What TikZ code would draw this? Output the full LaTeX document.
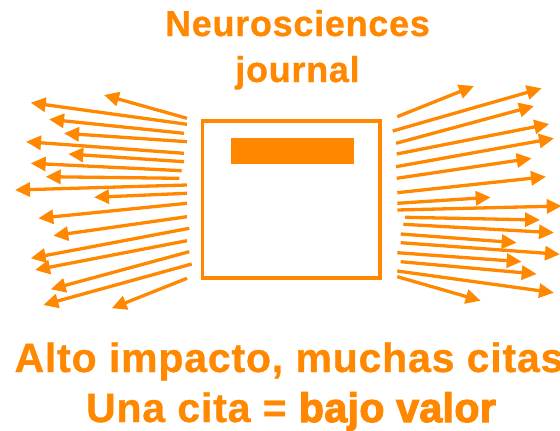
\documentclass[tikz,border=0pt]{standalone}
\usepackage{fontspec}
\setmainfont{Liberation Sans}
\newfontfamily\roundfont{Liberation Sans Bold}[FakeBold=0.8, LetterSpace=2]
\newfontfamily\heavyfont{Liberation Sans Bold}[FakeBold=3, LetterSpace=1]
\usetikzlibrary{arrows.meta}
\definecolor{citeorange}{RGB}{255,136,0}
\tikzset{
  citearrow/.style={line width=3.3pt, citeorange, -{Triangle[length=15pt,width=14pt]}},
  titletext/.style={citeorange, font=\roundfont\fontsize{36}{44}\selectfont, anchor=base, inner sep=0pt},
  bigtext/.style={citeorange, font=\roundfont\fontsize{41}{46}\selectfont, anchor=base, inner sep=0pt}
}

\begin{document}
\begin{tikzpicture}[x=1pt,y=-1pt]
        \useasboundingbox (0,0) rectangle (560,431);

        % title
        \node[titletext] (title1) at (297.5,36) {Neurosciences};
        \node[titletext] (title2) at (297.5,82) {journal};

        % the journal
        \node[draw=citeorange, line width=3.3pt, minimum width=177.5pt, minimum height=157pt, inner sep=0pt] (journal) at (291.25,199.5) {};
        \node[fill=citeorange, minimum width=123pt, minimum height=25.4pt, inner sep=0pt] (bar) at (292.5,151) {};

        % citations going out, left side
        \foreach \xa/\ya/\xb/\yb in {187/118.3/104/95, 187/124.3/30.7/102.7, 184/133.3/49/119.3,
            187/141.7/64/133.3, 184/153.3/26/141.7, 184/161.7/68.3/154, 181.7/170.7/30.7/163.3,
            179.3/178.3/45.7/176.7, 187/185/15/190, 187/193.3/94/197.3, 187/203.3/38.3/218.3,
            187/216.7/53.3/235.7, 189.3/228.3/30.7/258.3, 187/240.7/35/270, 189.3/251.7/50.7/289.3,
            191.7/264/43.3/305, 187/278.3/111.7/308.3}
            \draw[citearrow] (\xa,\ya) -- (\xb,\yb);

        % citations going out, right side
        \foreach \xa/\ya/\xb/\yb in {397.3/116.7/474/86, 392.7/131/541.7/88.3, 396/143.3/534/106,
            396.7/154/549.3/124, 396/166.7/554/138.3, 396.7/178.3/531.7/158.3, 397.3/192.7/546/176.7,
            397.3/203.3/490.7/197.3, 397.3/210/561.7/206, 405/217.3/540/220, 403.3/224.3/554/232.7,
            400.7/234/516.7/242.7, 400.7/242.7/560/254.3, 397.3/252.7/521.7/261.7, 400.7/261.7/536.7/274,
            397.3/271/554/292.7, 397.3/276.7/480.7/300.7}
            \draw[citearrow] (\xa,\ya) -- (\xb,\yb);

        % bottom text
        \node[bigtext] (line1) at (289,372) {Alto impacto, muchas citas};
        \node[bigtext] (line2) at (291,422) {Una cita = {\heavyfont bajo valor}};
\end{tikzpicture}
\end{document}
